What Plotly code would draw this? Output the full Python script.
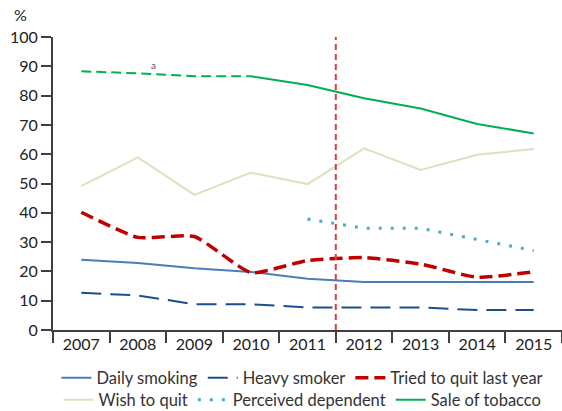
import plotly.graph_objects as go

years = ["2007", "2008", "2009", "2010", "2011", "2012", "2013", "2014", "2015"]
daily_smoking = [24.0, 22.9, 21.1, 19.8, 17.5, 16.4, 16.4, 16.4, 16.4]
heavy_smoker = [12.7, 11.8, 8.8, 8.8, 7.7, 7.7, 7.7, 6.8, 6.8]
tried_to_quit = [40.2, 31.6, 31.9, 19.6, 23.7, 24.7, 22.5, 18.0, 19.9]
wish_to_quit = [49.1, 58.9, 46.1, 53.7, 49.8, 62.0, 54.6, 59.8, 61.8]
perceived_dependent = [None, None, None, None, 37.9, 34.7, 34.7, 31.0, 27.1]
sale_of_tobacco = [88.3, 87.6, 86.6, 86.6, 83.6, 79.1, 75.6, 70.3, 67.1]
sale_estimated_until = "2010"  # dashed segment (note a)
break_after = "2011"  # vertical dashed line between 2011 and 2012
y_ticks = list(range(0, 101, 10))

FONT = "Lato, Open Sans, sans-serif"
fig = go.Figure()

fig.add_trace(go.Scatter(x=years, y=daily_smoking, name="Daily smoking", mode="lines", legend="legend",
                         line=dict(color="#4a7ebb", width=2)))
fig.add_trace(go.Scatter(x=years, y=heavy_smoker, name="Heavy smoker", mode="lines", legend="legend",
                         line=dict(color="#1f4e8c", width=2, dash="20px,9px")))
fig.add_trace(go.Scatter(x=years, y=tried_to_quit, name="Tried to quit last year", mode="lines", legend="legend",
                         line=dict(color="#c00000", width=3.5, dash="13px,6px", shape="spline", smoothing=0.5)))
fig.add_trace(go.Scatter(x=years, y=wish_to_quit, name="Wish to quit", mode="lines", legend="legend2",
                         line=dict(color="#d7e4bd", width=2)))
fig.add_trace(go.Scatter(x=years, y=perceived_dependent, name="Perceived dependent", mode="lines", legend="legend2",
                         line=dict(color="#4bacc6", width=3, dash="3px,9px")))
k = years.index(sale_estimated_until) + 1
fig.add_trace(go.Scatter(x=years[:k], y=sale_of_tobacco[:k], name="Sale of tobacco", mode="lines",
                         showlegend=False, legend="legend2", line=dict(color="#00b050", width=2, dash="10px,5px")))
fig.add_trace(go.Scatter(x=years[k - 1:], y=sale_of_tobacco[k - 1:], name="Sale of tobacco", mode="lines",
                         legend="legend2", line=dict(color="#00b050", width=2)))

bi = years.index(break_after) + 0.5
fig.add_shape(type="line", xref="x", yref="paper", x0=bi, x1=bi, y0=0, y1=1.0,
              line=dict(color="#e53935", width=2, dash="6px,4px"))

fig.add_annotation(x=1.27, y=90.6, xref="x", yref="y", text="a",
                   showarrow=False, font=dict(size=10, color="#555555", family=FONT))
fig.add_annotation(x=-0.08, y=1.078, xref="paper", yref="paper", text="%", showarrow=False,
                   xanchor="left", yanchor="middle", font=dict(size=16, color="#222222", family=FONT))

legend_common = dict(orientation="h", xanchor="center", yanchor="middle",
                     font=dict(size=16.5, color="#333333", family=FONT),
                     itemwidth=30, traceorder="normal", bgcolor="rgba(0,0,0,0)")

fig.update_layout(
    width=562, height=411,
    margin=dict(l=53, r=0, t=37, b=81, autoexpand=False),
    paper_bgcolor="white", plot_bgcolor="white",
    font=dict(family=FONT, size=16, color="#222222"),
    showlegend=True,
    legend=dict(x=0.49, y=-0.164, **legend_common),
    legend2=dict(x=0.49, y=-0.239, **legend_common),
    xaxis=dict(type="category", showgrid=False, zeroline=False, showline=True, automargin=False,
               linecolor="#404040", linewidth=2, ticks="outside", tickson="boundaries",
               ticklen=11, tickcolor="#404040", tickwidth=2, range=[-0.5, 8.5],
               ticklabelstandoff=-1,
               tickfont=dict(size=16, family=FONT, color="#222222")),
    yaxis=dict(range=[0, 100], tickvals=y_ticks, showgrid=False, zeroline=False, showline=True,
               automargin=False,
               linecolor="#404040", linewidth=2, ticks="outside", ticklen=10,
               tickcolor="#404040", tickwidth=2,
               tickfont=dict(size=16, family=FONT, color="#222222")),
)

fig.write_html("out.html", config={"displayModeBar": False},
               post_script="document.body.style.margin='0';")
